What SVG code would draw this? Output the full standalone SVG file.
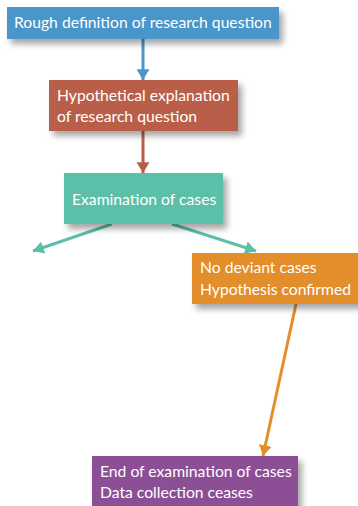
<svg xmlns="http://www.w3.org/2000/svg" width="358" height="506" viewBox="0 0 358 506">
<style>
.t{font-family:Lato,"Open Sans","Liberation Sans",sans-serif;font-size:15.7px;fill:#fff}
.c{fill:none;stroke-width:3}
</style>
<defs>
<filter id="sh" x="-20%" y="-30%" width="150%" height="180%">
<feGaussianBlur in="SourceAlpha" stdDeviation="3"/>
<feOffset dx="4" dy="5" result="b"/>
<feComponentTransfer><feFuncA type="linear" slope="0.35"/></feComponentTransfer>
<feMerge><feMergeNode/><feMergeNode in="SourceGraphic"/></feMerge>
</filter>
<marker id="ab" viewBox="0 0 10 12" refX="10" refY="6" markerWidth="3.6" markerHeight="4.6" markerUnits="strokeWidth" orient="auto"><path d="M0,0L10,6L0,12z" fill="#4a96cb"/></marker>
<marker id="ar" viewBox="0 0 10 12" refX="10" refY="6" markerWidth="3.6" markerHeight="4.6" markerUnits="strokeWidth" orient="auto"><path d="M0,0L10,6L0,12z" fill="#b95f48"/></marker>
<marker id="at" viewBox="0 0 10 12" refX="10" refY="6" markerWidth="3.6" markerHeight="4.6" markerUnits="strokeWidth" orient="auto"><path d="M0,0L10,6L0,12z" fill="#5bbfaa"/></marker>
<marker id="ao" viewBox="0 0 10 12" refX="10" refY="6" markerWidth="3.6" markerHeight="4.6" markerUnits="strokeWidth" orient="auto"><path d="M0,0L10,6L0,12z" fill="#e38e2a"/></marker>
</defs>
<rect width="358" height="506" fill="#fff"/>
<g id="connectors">
<line class="c" x1="143" y1="39" x2="143" y2="80" stroke="#4a96cb" marker-end="url(#ab)"/>
<line class="c" x1="143" y1="131" x2="143" y2="173" stroke="#b95f48" marker-end="url(#ar)"/>
<line class="c" x1="112" y1="224" x2="33" y2="251" stroke="#5bbfaa" marker-end="url(#at)"/>
<line class="c" x1="172" y1="224" x2="256" y2="251" stroke="#5bbfaa" marker-end="url(#at)"/>
<line class="c" x1="296" y1="304" x2="263" y2="456" stroke="#e38e2a" marker-end="url(#ao)"/>
</g>
<g id="n1">
<rect x="7" y="7" width="272" height="32" fill="#4a96cb" filter="url(#sh)"/>
<text class="t" x="14" y="28">Rough definition of research question</text>
</g>
<g id="n2">
<rect x="49" y="80" width="189" height="51" fill="#b95f48" filter="url(#sh)"/>
<text class="t" x="57" y="101">Hypothetical explanation</text>
<text class="t" x="57" y="122">of research question</text>
</g>
<g id="n3">
<rect x="64" y="173" width="159" height="51" fill="#5bbfaa" filter="url(#sh)"/>
<text class="t" x="72" y="205">Examination of cases</text>
</g>
<g id="n4">
<rect x="192" y="253" width="170" height="51" fill="#e38e2a" filter="url(#sh)"/>
<text class="t" x="200" y="273">No deviant cases</text>
<text class="t" x="200" y="295">Hypothesis confirmed</text>
</g>
<g id="n5">
<rect x="92" y="456" width="206" height="55" fill="#8c5096" filter="url(#sh)"/>
<text class="t" x="100" y="477">End of examination of cases</text>
<text class="t" x="100" y="498">Data collection ceases</text>
</g>
</svg>
